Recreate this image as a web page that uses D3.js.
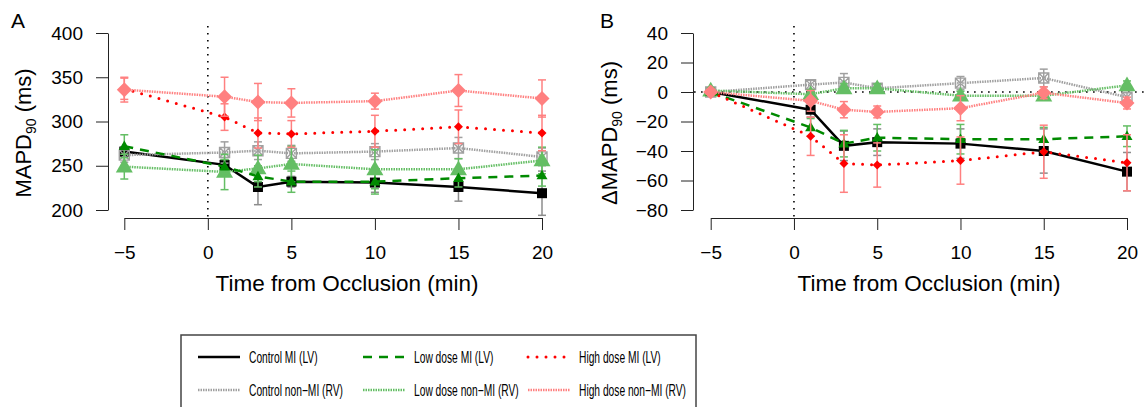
<!DOCTYPE html>
<html>
<head>
<meta charset="utf-8">
<script src="https://cdn.jsdelivr.net/npm/d3@7"></script>
<style>
  body { margin: 0; background: #fff; }
  text { font-family: "Liberation Sans", Arial, sans-serif; fill: #000; }
</style>
</head>
<body>
<div id="chart"></div>
<script>
"use strict";

const WIDTH = 1144, HEIGHT = 407;

// ---- data ----
const times = [-5, 1, 3, 5, 10, 15, 20];
const xTicks = [-5, 0, 5, 10, 15, 20];
const yTicksA = [200, 250, 300, 350, 400];
const yTicksB = [-80, -60, -40, -20, 0, 20, 40];

const seriesNames = ["Control MI (LV)", "Low dose MI (LV)", "High dose MI (LV)",
                     "Control non\u2212MI (RV)", "Low dose non\u2212MI (RV)", "High dose non\u2212MI (RV)"];

// panel A: MAPD90 (ms), mean and error
const ctrlMI_A     = [266, 251, 226, 232, 231, 226, 219];
const ctrlMI_A_err = [5, 6, 20, 6, 11, 16, 25];
const lowMI_A      = [272, 249, 238, 232, 232, 236, 239];
const lowMI_A_err  = [13, 8, 12, 12, 14, 10, 12];
const highMI_A     = [337, 305, 287, 286, 289, 294, 287];
const highMI_A_err = [12, 15, 17, 15, 18, 19, 20];
const ctrlRV_A     = [262, 265, 267, 264, 266, 270, 260];
const ctrlRV_A_err = [8, 12, 10, 9, 9, 12, 10];
const lowRV_A      = [249, 243, 247, 252, 246, 246, 256];
const lowRV_A_err  = [14, 20, 15, 20, 22, 12, 15];
const highRV_A     = [336, 328, 322, 321, 323, 335, 326];
const highRV_A_err = [14, 22, 21, 16, 9, 18, 21];

// panel B: change in MAPD90 (ms)
const ctrlMI_B     = [0, -12, -36.5, -34, -35, -40, -54];
const ctrlMI_B_err = [0, 5, 10, 9, 10, 15, 13];
const lowMI_B      = [0, -24, -35, -31, -32, -32, -30];
const lowMI_B_err  = [0, 6, 9, 9, 10, 8, 7];
const highMI_B     = [0, -30, -48.5, -49.5, -46.5, -40.5, -48];
const highMI_B_err = [0, 13, 19.5, 15, 16, 18, 19];
const ctrlRV_B     = [0, 5, 6.5, 2.5, 6, 9.5, -3.5];
const ctrlRV_B_err = [0, 3, 6, 3, 4.5, 6, 3];
const lowRV_B      = [1, -1.5, 2.5, 2.5, -2.5, -2.5, 4.5];
const lowRV_B_err  = [2, 3, 3, 3, 3, 3, 3];
const highRV_B     = [0, -6, -12, -13.5, -11, -0.5, -7.5];
const highRV_B_err = [0, 7, 5.5, 4, 8.5, 4, 4];

// ---- styles ----
const GRAY = "#a0a0a0", LGREEN = "#64be64", PINK = "#ff8080";
const styles = {};
styles[seriesNames[0]] = { color: "#000", dash: null, width: 2.5, err: "#8c8c8c", marker: "square" };
styles[seriesNames[1]] = { color: "#008a00", dash: "9,7", width: 2.5, err: LGREEN, marker: "triSmall" };
styles[seriesNames[2]] = { color: "#ff0000", dash: "0,9", width: 3, err: PINK, marker: "diaSmall", cap: "round" };
styles[seriesNames[3]] = { color: GRAY, dash: "1.5,1", width: 2.5, err: GRAY, marker: "boxX" };
styles[seriesNames[4]] = { color: LGREEN, dash: "1.5,1", width: 2.5, err: LGREEN, marker: "triBig" };
styles[seriesNames[5]] = { color: PINK, dash: "1.5,1", width: 2.5, err: PINK, marker: "diaBig" };

// drawing order (later on top)
const drawOrder = [0, 3, 4, 1, 2, 5];

function markerPath(kind) {
  if (kind === "square") return "M-5,-5h10v10h-10Z";
  if (kind === "boxX") return "M-5,-5h10v10h-10ZM-5,-5L5,5M5,-5L-5,5";
  if (kind === "triSmall") { const w = 11, h = w * 0.866; return `M0,${-h*0.6}L${w/2},${h*0.4}L${-w/2},${h*0.4}Z`; }
  if (kind === "triBig") { const w = 17, h = w * 0.866; return `M0,${-h*0.6}L${w/2},${h*0.4}L${-w/2},${h*0.4}Z`; }
  if (kind === "diaSmall") return "M0,-4.5L4.5,0L0,4.5L-4.5,0Z";
  if (kind === "diaBig") return "M0,-7.5L7.5,0L0,7.5L-7.5,0Z";
}

const svg = d3.select("#chart").append("svg")
  .attr("width", WIDTH)
  .attr("height", HEIGHT);

function drawPanel(p) {
  const g = svg.append("g");
  const x = d3.scaleLinear().domain([-5, 20]).range(p.xRange);
  const y = d3.scaleLinear().domain(p.yDomain).range([210, 33]);
  const padX = (p.xRange[1] - p.xRange[0]) * 0.04;

  // y axis
  const ya = g.append("g")
    .attr("transform", `translate(${p.axisX},0)`)
    .call(d3.axisLeft(y).tickValues(p.yTicks).tickSize(12).tickSizeOuter(0).tickPadding(13)
      .tickFormat(d => d < 0 ? "\u2212" + Math.abs(d) : d));
  // x axis
  const xa = g.append("g")
    .attr("transform", "translate(0,218)")
    .call(d3.axisBottom(x).tickValues(xTicks).tickSize(12).tickSizeOuter(0).tickPadding(16)
      .tickFormat(d => d < 0 ? "\u2212" + Math.abs(d) : d));
  [ya, xa].forEach(a => {
    a.selectAll("text").style("font-size", "19px").style("font-family", '"Liberation Sans", Arial, sans-serif');
    a.selectAll("path,line").attr("stroke", "#222").attr("stroke-width", 1);
  });

  // reference lines
  g.append("line")
    .attr("x1", x(0)).attr("x2", x(0)).attr("y1", 26).attr("y2", 217)
    .attr("stroke", "#000").attr("stroke-width", 1.6)
    .attr("stroke-dasharray", "1.6,5.4");
  if (p.zeroLine) {
    g.append("line")
      .attr("x1", p.xRange[0] - padX).attr("x2", p.xRange[1] + padX)
      .attr("y1", y(0)).attr("y2", y(0))
      .attr("stroke", "#000").attr("stroke-width", 1.6)
      .attr("stroke-dasharray", "1.6,5.4");
  }

  const line = d3.line().x(d => x(d.t)).y(d => y(d.v));

  drawOrder.forEach(i => {
    const name = seriesNames[i];
    const st = styles[name];
    const pts = times.map((t, k) => ({ t: t, v: p.values[i][k], e: p.errors[i][k] }));
    const sg = g.append("g");

    // error bars
    const eb = sg.selectAll("g.eb").data(pts.filter(d => d.e > 0)).join("g")
      .attr("stroke", st.err).attr("stroke-width", 1.5);
    eb.append("line")
      .attr("x1", d => x(d.t)).attr("x2", d => x(d.t))
      .attr("y1", d => y(d.v - d.e)).attr("y2", d => y(d.v + d.e));
    eb.append("line")
      .attr("x1", d => x(d.t) - 4).attr("x2", d => x(d.t) + 4)
      .attr("y1", d => y(d.v - d.e)).attr("y2", d => y(d.v - d.e));
    eb.append("line")
      .attr("x1", d => x(d.t) - 4).attr("x2", d => x(d.t) + 4)
      .attr("y1", d => y(d.v + d.e)).attr("y2", d => y(d.v + d.e));

    // line
    sg.append("path").datum(pts)
      .attr("d", line)
      .attr("fill", "none")
      .attr("stroke", st.color)
      .attr("stroke-width", st.width)
      .attr("stroke-linecap", st.cap || "butt")
      .attr("stroke-dasharray", st.dash);

    // points
    sg.selectAll("path.pt").data(pts).join("path")
      .attr("class", "pt")
      .attr("transform", d => `translate(${x(d.t)},${y(d.v)})`)
      .attr("d", markerPath(st.marker))
      .attr("fill", st.marker === "boxX" ? "none" : st.color)
      .attr("stroke", st.marker === "boxX" ? GRAY : "none")
      .attr("stroke-width", 1.4);
  });

  // axis titles
  const yl = g.append("text")
    .attr("transform", `translate(${p.yLabelX},133) rotate(-90)`)
    .attr("text-anchor", "middle")
    .style("font-size", "22px");
  yl.append("tspan").text(p.yLabelPrefix + "MAPD");
  yl.append("tspan").attr("dy", 5).style("font-size", "14px").text("90");
  yl.append("tspan").attr("dy", -5).text(" (ms)");

  g.append("text")
    .attr("x", p.xTitleX).attr("y", 291)
    .attr("text-anchor", "middle")
    .style("font-size", "22.5px")
    .text("Time from Occlusion (min)");

  g.append("text")
    .attr("x", p.letterX).attr("y", 28)
    .style("font-size", "21px")
    .text(p.letter);
}

drawPanel({
  xRange: [124.3, 542], yDomain: [200, 400], yTicks: yTicksA, axisX: 108,
  values: [ctrlMI_A, lowMI_A, highMI_A, ctrlRV_A, lowRV_A, highRV_A],
  errors: [ctrlMI_A_err, lowMI_A_err, highMI_A_err, ctrlRV_A_err, lowRV_A_err, highRV_A_err],
  yLabelX: 31, yLabelPrefix: "", xTitleX: 347, letter: "A", letterX: 11, zeroLine: false
});

drawPanel({
  xRange: [710.7, 1127], yDomain: [-80, 40], yTicks: yTicksB, axisX: 693,
  values: [ctrlMI_B, lowMI_B, highMI_B, ctrlRV_B, lowRV_B, highRV_B],
  errors: [ctrlMI_B_err, lowMI_B_err, highMI_B_err, ctrlRV_B_err, lowRV_B_err, highRV_B_err],
  yLabelX: 617, yLabelPrefix: "\u0394", xTitleX: 929, letter: "B", letterX: 600, zeroLine: true
});

// ---- legend ----
const legend = svg.append("g");
legend.append("rect")
  .attr("x", 181).attr("y", 335).attr("width", 515).attr("height", 110)
  .attr("fill", "none").attr("stroke", "#444").attr("stroke-width", 1.5);

const colX = [198, 363, 528];
const rowY = [357, 390];
seriesNames.forEach((name, i) => {
  const st = styles[name];
  const cx = colX[i % 3], cy = rowY[Math.floor(i / 3)];
  legend.append("line")
    .attr("x1", cx).attr("x2", cx + 42).attr("y1", cy).attr("y2", cy)
    .attr("stroke", st.color).attr("stroke-width", st.width)
    .attr("stroke-linecap", st.cap || "butt")
    .attr("stroke-dasharray", st.dash);
  legend.append("text")
    .attr("transform", `translate(${cx + 51},${cy + 5.5}) scale(0.64,1)`)
    .style("font-size", "16px")
    .text(name);
});
</script>
</body>
</html>
